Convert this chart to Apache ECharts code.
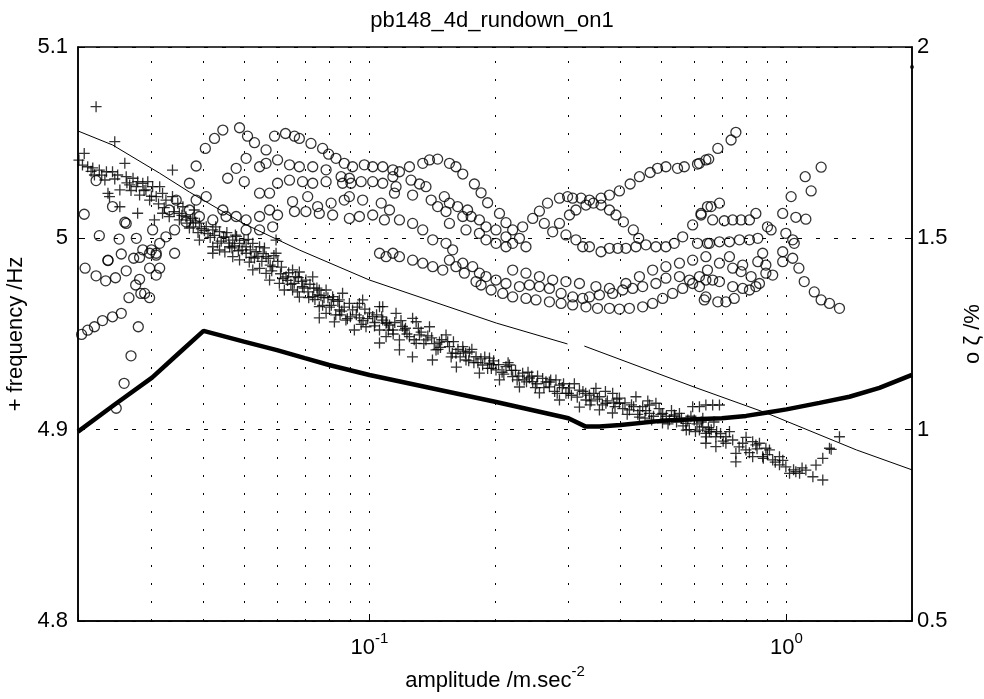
<!DOCTYPE html>
<html>
<head>
<meta charset="utf-8">
<script src="https://cdn.jsdelivr.net/npm/echarts@6/dist/echarts.min.js"></script>
<style>
  html, body { margin: 0; padding: 0; background: #ffffff; }
  #chart { width: 984px; height: 699px; }
</style>
</head>
<body>
<div id="chart"></div>
<script>
// Run-down pb148_4d, mode on1: frequency (+) and damping ratio (o) against response amplitude.

// Frequency estimates [amplitude m/s^2, frequency Hz]
const freqPoints = [
  [0.0221,5.0688],[0.0245,5.0505],[0.0207,5.0444],[0.0205,5.0383],[0.0211,5.0374],[0.0217,5.0368],[0.0225,5.0357],
  [0.0234,5.0348],[0.0242,5.0348],[0.0249,5.0331],[0.0259,5.0392],[0.0261,5.0322],[0.0271,5.0314],[0.0278,5.0296],
  [0.0286,5.0288],[0.0294,5.0296],[0.0236,5.0235],[0.0252,5.0253],[0.0238,5.0218],[0.0276,5.0270],[0.0291,5.0253],
  [0.0302,5.0270],[0.0314,5.0270],[0.0297,5.0200],[0.0308,5.0218],[0.0319,5.0235],[0.0252,5.0165],[0.0278,5.0131],
  [0.0305,5.0096],[0.0337,5.0357],[0.0325,5.0200],[0.0337,5.0218],[0.0347,5.0183],[0.0319,5.0131],[0.0331,5.0113],
  [0.0357,5.0165],[0.0363,5.0113],[0.0377,5.0105],[0.0391,5.0079],[0.0406,5.0061],[0.0421,5.0044],[0.0437,5.0035],
  [0.0453,5.0008],[0.0470,4.9991],[0.0488,4.9974],[0.0506,4.9956],[0.0525,4.9974],[0.0545,4.9956],[0.0597,4.9991],
  [0.0421,4.9956],[0.0462,4.9956],[0.0597,4.9922],[0.0565,4.9904],
  [0.0421,4.9922],[0.0437,4.9939],[0.0470,4.9904],[0.0488,4.9887],[0.0506,4.9922],[0.0525,4.9835],[0.0545,4.9843],
  [0.0565,4.9817],[0.0586,4.9852],[0.0608,4.9765],[0.0631,4.9799],[0.0654,4.9835],[0.0654,4.9730],[0.0691,4.9747],
  [0.0704,4.9782],[0.0731,4.9799],[0.0731,4.9695],[0.0758,4.9643],[0.0787,4.9730],[0.0787,4.9608],[0.0816,4.9695],
  [0.0847,4.9626],[0.0862,4.9713],[0.0878,4.9573],[0.0911,4.9626],[0.0946,4.9660],[0.0963,4.9678],[0.0981,4.9538],
  [0.1018,4.9591],[0.1057,4.9643],[0.1057,4.9521],[0.1096,4.9486],[0.1096,4.9556],
  [0.1076,4.9643],[0.1076,4.9573],[0.1158,4.9608],[0.1138,4.9521],[0.1180,4.9469],[0.1269,4.9582],[0.1294,4.9564],
  [0.1247,4.9486],[0.1294,4.9451],[0.1393,4.9538],[0.1366,4.9469],[0.1444,4.9417],[0.1526,4.9495],[0.1555,4.9434],
  [0.1612,4.9399],[0.1674,4.9434],[0.1704,4.9364],[0.1801,4.9381],[0.1868,4.9338],[0.1940,4.9347],[0.2011,4.9312],
  [0.2125,4.9329],[0.2205,4.9277],[0.2330,4.9295],[0.2463,4.9251],[0.2602,4.9268],[0.2701,4.9224],[0.2855,4.9233],
  [0.2959,4.9190],[0.3188,4.9207],[0.3305,4.9155],[0.3492,4.9216],[0.3560,4.9172],[0.3690,4.9138],[0.3830,4.9190],
  [0.3976,4.9138],[0.4201,4.9103],[0.4355,4.9172],[0.4520,4.9120],[0.4692,4.9085],[0.4863,4.9138],[0.5048,4.9085],
  [0.5240,4.9051],[0.5538,4.9085],[0.5739,4.9033],[0.5957,4.9120],[0.6184,4.9120],[0.6184,4.8998],[0.6408,4.8981],
  [0.6408,4.9129],[0.6653,4.9129],[0.6907,4.9129],[0.6296,4.9015],[0.6535,4.8989],[0.6772,4.8963],[0.7157,4.8963],
  [0.7431,4.8946],[0.7852,4.8929],[0.8298,4.8937],[0.8614,4.8929],[0.8925,4.8903],[1.340,4.8963],[1.268,4.8903],
  [0.6408,4.8929],[0.6772,4.8911],[0.7157,4.8929],[0.7563,4.8876],[0.7993,4.8894],[0.8445,4.8920],[0.8298,4.8859],
  [0.7563,4.8832],[0.8769,4.8859],[0.9104,4.8894],[0.9268,4.8842],[0.9621,4.8816],[0.9621,4.8859],[0.9966,4.8806],
  [1.017,4.8772],[1.053,4.8780],[1.075,4.8772],[1.113,4.8789],[1.157,4.8754],[1.177,4.8815],[1.222,4.8850],
  [1.222,4.8737],[1.280,4.8897],
  [0.1057,4.9453],[0.1180,4.9417],[0.1268,4.9380],[0.1416,4.9364],[0.1616,4.9327],[0.1835,4.9296],[0.2050,4.9260],
  [0.2289,4.9223],[0.2556,4.9192],[0.2855,4.9155],[0.3188,4.9118],[0.3560,4.9103],[0.3826,4.9087],[0.4440,4.9066],
  [0.5043,4.9035],[0.5751,4.8998],[0.6421,4.8962],
  [0.1117,4.9547],[0.1213,4.9521],[0.1318,4.9495],[0.1472,4.9458],[0.1737,4.9406],[0.1940,4.9374],[0.2166,4.9338],
  [0.2419,4.9270],[0.2701,4.9249],[0.3017,4.9218],[0.3369,4.9181],[0.3976,4.9165],[0.4692,4.9129],[0.5382,4.9077],
  [0.6010,4.9051],
  [0.0391,4.9991],[0.0370,5.0054],[0.0350,5.0096],[0.0450,4.9929],[0.0515,4.9876],[0.0576,4.9782],[0.0625,4.9730],
  [0.0679,4.9693],[0.0758,4.9584],[0.0824,4.9563],[0.0920,4.9521],[0.0679,4.9824],[0.0530,4.9897],[0.0477,5.0017],
  [0.0380,5.0148],[0.0281,5.0226],[0.0266,5.0279],[0.0219,5.0331],[0.0232,5.0305],[0.0201,5.0409],[0.0758,4.9730],
  [0.0847,4.9678],[0.0946,4.9584],[0.1028,4.9542],
  [0.0215,5.0350],[0.0228,5.0330],[0.0245,5.0310],[0.0262,5.0290],[0.0268,5.0250],[0.0288,5.0250],[0.0300,5.0220],
  [0.0312,5.0180],[0.0322,5.0160],[0.0340,5.0140],[0.0350,5.0130],[0.0365,5.0080],[0.0378,5.0060],[0.0388,5.0030],
  [0.0402,5.0040],[0.0415,5.0005],[0.0428,5.0060],[0.0441,4.9985],[0.0455,5.0030],[0.0468,4.9950],[0.0480,5.0010],
  [0.0495,4.9940],[0.0512,4.9995],[0.0520,4.9900],[0.0535,4.9930],[0.0552,4.9880],[0.0560,4.9950],[0.0578,4.9860],
  [0.0590,4.9910],[0.0615,4.9850],[0.0620,4.9790],[0.0640,4.9820],[0.0648,4.9760],[0.0665,4.9800],[0.0672,4.9720],
  [0.0688,4.9775],[0.0712,4.9720],[0.0720,4.9760],[0.0740,4.9680],[0.0748,4.9740],[0.0765,4.9700],[0.0772,4.9650],
  [0.0795,4.9690],[0.0810,4.9650],[0.0830,4.9600],[0.0840,4.9670],[0.0858,4.9620],[0.0885,4.9580],[0.0895,4.9660],
  [0.0930,4.9600],[0.0955,4.9550],[0.0975,4.9630],[0.0990,4.9580],
  [0.1040,4.9600],[0.1110,4.9520],[0.1150,4.9560],[0.1200,4.9540],[0.1230,4.9500],[0.1330,4.9510],[0.1350,4.9450],
  [0.1410,4.9480],[0.1460,4.9420],[0.1490,4.9470],[0.1580,4.9400],[0.1590,4.9460],[0.1650,4.9380],[0.1680,4.9410],
  [0.1730,4.9360],[0.1760,4.9420],[0.1820,4.9350],[0.1890,4.9380],[0.1960,4.9320],[0.1985,4.9360],
  [0.2080,4.9300],[0.2150,4.9350],[0.2240,4.9310],[0.2260,4.9260],[0.2380,4.9250],[0.2400,4.9300],[0.2500,4.9220],
  [0.2530,4.9280],[0.2650,4.9250],[0.2780,4.9200],[0.2800,4.9260],[0.2900,4.9220],
  [0.3050,4.9180],[0.3100,4.9240],[0.3250,4.9200],[0.3400,4.9150],[0.3450,4.9190],[0.3620,4.9130],[0.3680,4.9200],
  [0.3880,4.9120],[0.3920,4.9160],[0.4100,4.9140],[0.4150,4.9080],[0.4300,4.9120],[0.4450,4.9100],[0.4580,4.9060],
  [0.4650,4.9150],[0.4800,4.9070],[0.4950,4.9110],
  [0.5150,4.9070],[0.5300,4.9100],[0.5450,4.9040],[0.5600,4.9060],[0.5850,4.9000],[0.5900,4.9070],[0.6100,4.9030],
  [0.6300,4.9060],[0.6600,4.9000],[0.6700,4.9040],[0.6950,4.8980],
  [0.7050,4.8940],[0.7300,4.8990],[0.7700,4.8910],[0.8000,4.8960],[0.8150,4.8880],[0.8500,4.8900],[0.8800,4.8850],
  [0.9000,4.8870],[0.9400,4.8830],[0.9800,4.8840],[1.040,4.8790],[1.090,4.8800],
  [0.0355,5.0120],[0.0372,5.0095],[0.0383,5.0085],[0.0395,5.0050],[0.0410,5.0025],[0.0425,5.0015],[0.0432,4.9975],
  [0.0447,5.0005],[0.0460,4.9975],[0.0475,4.9960],[0.0485,4.9935],[0.0500,4.9990],
  [0.0518,4.9940],[0.0540,4.9905],[0.0556,4.9920],[0.0572,4.9895],[0.0583,4.9830],[0.0603,4.9880],[0.0612,4.9815],
  [0.0636,4.9780],[0.0660,4.9765],[0.0675,4.9795],[0.0697,4.9740],[0.0715,4.9690],[0.0735,4.9740],[0.0752,4.9705],
  [0.0778,4.9690],[0.0802,4.9640],[0.0820,4.9680],[0.0850,4.9600],[0.0870,4.9640],[0.0900,4.9590],[0.0935,4.9640],
  [0.0965,4.9570],[0.1000,4.9610],
  [0.1030,4.9560],[0.1070,4.9590],[0.1100,4.9560],[0.1140,4.9500],[0.1190,4.9570],[0.1220,4.9530],[0.1280,4.9470],
  [0.1310,4.9530],[0.1380,4.9490],[0.1430,4.9450],[0.1480,4.9430],[0.1540,4.9460],[0.1570,4.9380],[0.1630,4.9420],
  [0.1700,4.9400],[0.1780,4.9350],[0.1850,4.9370],[0.1920,4.9320],[0.1980,4.9340],
  [0.2040,4.9340],[0.2100,4.9290],[0.2190,4.9310],[0.2280,4.9280],[0.2350,4.9260],[0.2450,4.9280],[0.2520,4.9240],
  [0.2620,4.9220],[0.2720,4.9260],[0.2820,4.9190],[0.2920,4.9240],[0.3000,4.9190],[0.3150,4.9170],[0.3300,4.9190],
  [0.3380,4.9130],[0.3520,4.9160],[0.3720,4.9150],[0.3850,4.9140],
  [0.4050,4.9110],[0.4250,4.9130],[0.4400,4.9080],[0.4600,4.9100],[0.4750,4.9050],[0.5000,4.9080],[0.5200,4.9030],
  [0.5400,4.9070],[0.5650,4.9020],[0.5800,4.9050],[0.6050,4.8990],[0.6250,4.9040],[0.6500,4.9010],[0.6800,4.8990]
];

// Damping estimates [amplitude m/s^2, zeta %]
const dampPoints = [
  [0.0204,1.249],[0.0211,1.260],[0.0219,1.269],[0.0229,1.285],[0.0242,1.295],[0.0254,1.304],[0.0265,1.345],
  [0.0275,1.378],[0.0283,1.356],[0.0289,1.356],[0.0297,1.345],[0.0281,1.393],[0.0297,1.422],[0.0308,1.404],
  [0.0314,1.422],
  [0.0208,1.422],[0.0221,1.402],[0.0233,1.389],[0.0246,1.397],[0.0261,1.415],[0.0236,1.442],[0.0254,1.459],
  [0.0272,1.448],[0.0281,1.450],[0.0297,1.461],[0.0308,1.456],[0.0341,1.461],
  [0.0247,1.056],[0.0258,1.121],[0.0268,1.193],[0.0279,1.269],
  [0.0207,1.563],[0.0221,1.651],[0.0225,1.507],[0.0242,1.583],[0.0251,1.498],[0.0259,1.542],[0.0276,1.500],
  [0.0286,1.470],[0.0300,1.470],[0.0302,1.522],[0.0314,1.487],[0.0325,1.504],[0.0341,1.522],[0.0331,1.574],
  [0.0344,1.600],
  [0.0370,1.644],[0.0384,1.689],[0.0404,1.735],[0.0425,1.761],[0.0445,1.783],[0.0488,1.789],[0.0510,1.767],
  [0.0530,1.750],[0.0565,1.731],[0.0592,1.767],[0.0629,1.774],[0.0661,1.767],[0.0679,1.761],[0.0724,1.748],
  [0.0772,1.735],[0.0798,1.720],[0.0831,1.709],[0.0870,1.696],[0.0911,1.687],[0.0972,1.692],[0.1018,1.687],
  [0.1076,1.687],[0.1138,1.679],[0.1180,1.674],[0.1247,1.687],[0.1342,1.696],[0.1393,1.705],[0.1457,1.707],
  [0.1555,1.696],[0.1612,1.687],[0.1674,1.668],[0.1785,1.642],[0.1852,1.619],[0.1920,1.593],[0.2050,1.565],
  [0.2125,1.541],[0.2205,1.522],[0.2289,1.500],[0.2373,1.478],
  [0.0457,1.657],[0.0479,1.683],[0.0506,1.709],[0.0501,1.648],[0.0545,1.687],[0.0565,1.696],[0.0602,1.705],
  [0.0643,1.692],[0.0679,1.687],[0.0731,1.687],[0.0787,1.679],[0.0855,1.661],[0.0895,1.657],[0.1076,1.644],
  [0.1138,1.661],[0.1158,1.635],[0.1258,1.652],[0.1318,1.642],[0.1366,1.635],[0.1512,1.609],[0.1555,1.592],
  [0.1627,1.583],[0.1719,1.574],[0.1753,1.557],[0.1835,1.548],[0.1903,1.530],[0.2011,1.522],[0.2125,1.504],
  [0.2205,1.487],
  [0.0545,1.618],[0.0576,1.618],[0.0602,1.644],[0.0643,1.652],[0.0691,1.648],[0.0731,1.644],[0.0787,1.648],
  [0.0862,1.644],[0.0903,1.644],[0.0955,1.648],[0.1018,1.648],
  [0.0654,1.596],[0.0711,1.609],[0.0751,1.583],[0.0809,1.592],[0.0870,1.600],[0.0895,1.609],[0.0963,1.600],
  [0.1067,1.592],[0.1117,1.574],[0.1180,1.548],[0.1269,1.539],[0.1342,1.522],[0.1418,1.496],[0.1526,1.487],
  [0.1583,1.470],
  [0.0506,1.548],[0.0545,1.557],[0.0576,1.574],[0.0602,1.561],[0.0661,1.570],[0.0704,1.570],[0.0758,1.565],
  [0.0816,1.561],[0.0895,1.552],[0.0946,1.557],[0.1018,1.561],[0.1086,1.548],[0.1148,1.618],[0.1269,1.613],
  [0.1406,1.600],[0.1457,1.583],[0.1526,1.570],[0.1555,1.539],[0.1674,1.557],[0.1704,1.522],[0.1835,1.513],
  [0.1903,1.496],[0.2011,1.487],[0.2125,1.478],
  [0.0406,1.609],[0.0384,1.600],[0.0370,1.574],[0.0363,1.543],[0.0391,1.557],[0.0421,1.548],[0.0453,1.557],
  [0.0479,1.557],[0.0445,1.574],[0.0506,1.522],[0.0545,1.522],[0.0586,1.530],[0.0261,1.539],[0.0308,1.461],
  [0.0236,1.443],
  [0.1555,1.443],[0.1612,1.426],[0.1689,1.409],[0.1801,1.387],[0.1852,1.378],[0.1958,1.365],[0.2087,1.356],
  [0.2205,1.347],[0.2373,1.343],[0.2508,1.339],[0.2701,1.334],[0.2881,1.330],[0.3071,1.326],[0.3305,1.321],
  [0.3523,1.317],[0.3762,1.317],[0.3976,1.315],[0.4201,1.317],[0.4520,1.321],[0.4776,1.330],[0.5048,1.343],
  [0.5334,1.356],[0.5638,1.369],[0.5957,1.382],[0.6184,1.400],[0.6465,1.417],[0.6907,1.435],[0.7299,1.452],
  [0.1057,1.461],[0.1096,1.452],[0.1138,1.461],[0.1180,1.452],[0.1269,1.443],[0.1342,1.435],[0.1418,1.426],
  [0.1499,1.417],[0.1674,1.435],[0.1768,1.426],[0.1835,1.409],[0.1903,1.400],[0.2011,1.391],[0.2125,1.382],
  [0.2289,1.374],[0.2419,1.378],[0.2556,1.374],[0.2701,1.369],[0.2881,1.356],[0.3071,1.347],[0.3246,1.343],
  [0.3369,1.347],[0.3560,1.352],[0.3830,1.356],[0.4048,1.365],[0.4277,1.369],[0.4520,1.374],[0.4863,1.382],
  [0.5139,1.396],[0.5538,1.400],[0.5852,1.391],[0.6184,1.374],[0.6408,1.347],[0.6845,1.334],[0.7157,1.334],
  [0.7495,1.343],
  [0.2205,1.417],[0.2373,1.409],[0.2556,1.400],[0.2750,1.391],[0.2959,1.387],[0.3188,1.382],[0.3492,1.374],
  [0.3762,1.369],[0.4121,1.382],[0.4440,1.400],[0.4776,1.417],[0.5139,1.426],[0.5538,1.435],[0.5957,1.443],
  [0.6408,1.452],
  [0.6408,1.391],[0.6653,1.391],[0.6907,1.387],[0.7431,1.374],[0.7852,1.369],[0.8151,1.365],[0.8445,1.374],
  [0.8614,1.382],[0.8226,1.400],[0.7782,1.413],[0.7431,1.422],[0.7852,1.430],[0.8536,1.439],[0.8925,1.430],
  [0.9268,1.404],[0.9794,1.439],[1.035,1.448],[1.071,1.422],[1.103,1.387],[1.166,1.360],[1.211,1.339],
  [1.268,1.330],[1.340,1.317],[0.8925,1.409],[0.8769,1.461],[0.9794,1.465],[0.6351,1.339],
  [0.6184,1.696],[0.6509,1.707],[0.6845,1.735],[0.7365,1.757],[0.7563,1.777],[1.211,1.686],[1.109,1.661],
  [1.146,1.624],[1.026,1.609],[0.9794,1.565],[1.053,1.555],[1.113,1.550],[0.8445,1.565],[0.8151,1.548],
  [0.7782,1.548],[0.7431,1.548],[0.7093,1.546],[0.6653,1.548],[0.6240,1.565],[0.6594,1.583],[0.6907,1.592],
  [0.9004,1.530],[0.9186,1.522],[0.9966,1.513],[1.035,1.496],[1.044,1.487],[0.8536,1.500],[0.8151,1.496],
  [0.7713,1.496],[0.7299,1.491],[0.6907,1.491],[0.6535,1.487],
  [0.2463,1.552],[0.2556,1.571],[0.2673,1.592],[0.2855,1.605],[0.2986,1.609],[0.3071,1.605],[0.3217,1.605],
  [0.3369,1.600],[0.3592,1.605],[0.3762,1.613],[0.3976,1.624],[0.4218,1.642],[0.4440,1.661],[0.4711,1.672],
  [0.4907,1.683],[0.5139,1.687],[0.5479,1.683],[0.5688,1.687],[0.6118,1.694],[0.6408,1.705],
  [0.3017,1.561],[0.3127,1.574],[0.3305,1.587],[0.3443,1.592],[0.3592,1.587],[0.3762,1.574],[0.3900,1.561],
  [0.4064,1.543],[0.4293,1.522],[0.4422,1.500],[0.4602,1.483],[0.4863,1.478],[0.5139,1.478],[0.5382,1.487],
  [0.5638,1.504],[0.5957,1.535],[0.6240,1.561],[0.6465,1.583],[0.6118,1.487],[0.6465,1.487],
  [0.2626,1.539],[0.2750,1.517],[0.2855,1.539],[0.2959,1.509],[0.3127,1.496],[0.3246,1.478],[0.3369,1.478],
  [0.3592,1.465],[0.3762,1.474],[0.3940,1.474],[0.4121,1.474],[0.4355,1.478],[0.2330,1.530]
];

// Frequency trend line (break between the two fitted ranges)
const freqFit = [
  [0.0200,5.0561],[0.0242,5.0488],[0.03136,5.0341],[0.0370,5.0242],[0.0496,5.0080],[0.0679,4.9939],
  [0.1000,4.9782],[0.2016,4.9557],[0.2984,4.9448],[0.3100,'-'],
  [0.3275,4.9437],[0.6000,4.9223],[0.8952,4.9087],[1.472,4.8894],[2.000,4.8790]
];

// Damping trend line [amplitude, zeta %]
const dampFit = [
  [0.0200,0.995],[0.02445,1.065],[0.0301,1.136],[0.0350,1.201],[0.0400,1.258],[0.0437,1.247],[0.0500,1.230],
  [0.0600,1.208],[0.0700,1.187],[0.0800,1.169],[0.1000,1.143],[0.2000,1.073],[0.3000,1.030],[0.3300,1.008],
  [0.3560,1.008],[0.4000,1.012],[0.5000,1.023],[0.6000,1.027],[0.7000,1.030],[0.8000,1.036],[0.9000,1.045],
  [1.000,1.053],[1.200,1.070],[1.416,1.086],[1.671,1.109],[2.000,1.143]
];

// Lone damping estimate at the upper amplitude limit
const strayPoint = [[2.0, 1.948]];

// Axis ranges and decade/minor grid positions
const ampRange = [0.02, 2];
const freqRange = { min: 4.8, max: 5.1, step: 0.1 };
const zetaRange = { min: 0.5, max: 2, step: 0.5 };
const decadeGrid = [0.03, 0.04, 0.05, 0.06, 0.07, 0.08, 0.09, 0.1, 0.2, 0.3, 0.4, 0.5, 0.6, 0.7, 0.8, 0.9, 1];
const labelledExponents = [-1, 0];

const FONT = '"Liberation Sans", Arial, Helvetica, sans-serif';
const chart = echarts.init(document.getElementById('chart'), null, { renderer: 'canvas' });

const supRich = {
  b: { fontSize: 22, fontFamily: FONT, color: '#000', lineHeight: 34 },
  s: { fontSize: 15, fontFamily: FONT, color: '#000', verticalAlign: 'top' }
};

chart.setOption({
  animation: false,
  backgroundColor: '#ffffff',
  title: {
    text: 'pb148_4d_rundown_on1',
    left: 'center',
    top: 5,
    textStyle: { fontFamily: FONT, fontSize: 22, fontWeight: 'normal', color: '#000' }
  },
  grid: {
    left: 78, right: 72, top: 47, bottom: 78,
    containLabel: false, outerBoundsMode: 'none',
    show: true, borderColor: '#000', borderWidth: 1.5, backgroundColor: 'transparent'
  },
  xAxis: [{
    type: 'log', logBase: 10, min: ampRange[0], max: ampRange[1],
    name: 'amplitude /m.sec{s|-2}',
    nameLocation: 'middle', nameGap: 36,
    nameTextStyle: { fontFamily: FONT, fontSize: 22, color: '#000', lineHeight: 34, rich: supRich },
    axisLine: { show: true, lineStyle: { color: '#000', width: 1.5 } },
    axisTick: { show: true, inside: true, length: 7, lineStyle: { color: '#000' } },
    splitLine: { show: false },
    axisLabel: {
      margin: 10,
      formatter: function (v) {
        const e = Math.log10(v);
        const r = Math.round(e);
        if (Math.abs(e - r) > 1e-6 || labelledExponents.indexOf(r) < 0) return '';
        return '{b|10}{s|' + r + '}';
      },
      rich: supRich
    }
  }],
  yAxis: [{
    type: 'value', position: 'left',
    min: freqRange.min, max: freqRange.max, interval: freqRange.step,
    name: '+ frequency /Hz', nameLocation: 'middle', nameGap: 44, nameRotate: 90,
    nameTextStyle: { fontFamily: FONT, fontSize: 22, color: '#000' },
    axisLine: { show: true, lineStyle: { color: '#000', width: 1.5 } },
    axisTick: { show: true, inside: true, length: 7, lineStyle: { color: '#000' } },
    axisLabel: { margin: 10, fontFamily: FONT, fontSize: 22, color: '#000' },
    splitLine: { show: true, lineStyle: { color: '#000', width: 1, type: [4, 14] } }
  }, {
    type: 'value', position: 'right',
    min: zetaRange.min, max: zetaRange.max, interval: zetaRange.step,
    name: 'o \u03b6 /%', nameLocation: 'middle', nameGap: 50, nameRotate: 90,
    nameTextStyle: { fontFamily: FONT, fontSize: 22, color: '#000' },
    axisLine: { show: true, lineStyle: { color: '#000', width: 1.5 } },
    axisTick: { show: true, inside: true, length: 7, lineStyle: { color: '#000' } },
    axisLabel: { margin: 5, fontFamily: FONT, fontSize: 22, color: '#000' },
    splitLine: { show: false }
  }],
  series: [{
    name: 'frequency trend',
    type: 'line', xAxisIndex: 0, yAxisIndex: 0,
    data: freqFit, showSymbol: false, connectNulls: false,
    lineStyle: { color: '#000', width: 1 },
    z: 3,
    markLine: {
      silent: true, symbol: ['none', 'none'], label: { show: false },
      lineStyle: { color: '#000', width: 1, type: [2, 16] },
      data: decadeGrid.map(function (v) { return { xAxis: v }; })
    }
  }, {
    name: 'damping trend',
    type: 'line', xAxisIndex: 0, yAxisIndex: 1,
    data: dampFit, showSymbol: false,
    lineStyle: { color: '#000', width: 4.5 },
    z: 4
  }, {
    name: 'frequency',
    type: 'scatter', xAxisIndex: 0, yAxisIndex: 0,
    data: freqPoints,
    symbol: 'path://M0,5L10,5M5,0L5,10', symbolSize: 11,
    itemStyle: { color: 'rgba(0,0,0,0)', borderColor: '#000', borderWidth: 1.3 },
    z: 5
  }, {
    name: 'damping',
    type: 'scatter', xAxisIndex: 0, yAxisIndex: 1,
    data: dampPoints,
    symbol: 'circle', symbolSize: 10,
    itemStyle: { color: 'rgba(0,0,0,0)', borderColor: '#000', borderWidth: 1.3 },
    z: 5
  }, {
    name: 'damping (edge)',
    type: 'scatter', xAxisIndex: 0, yAxisIndex: 1,
    data: strayPoint, symbol: 'circle', symbolSize: 4,
    itemStyle: { color: '#000' }, z: 6
  }]
});
</script>
</body>
</html>
